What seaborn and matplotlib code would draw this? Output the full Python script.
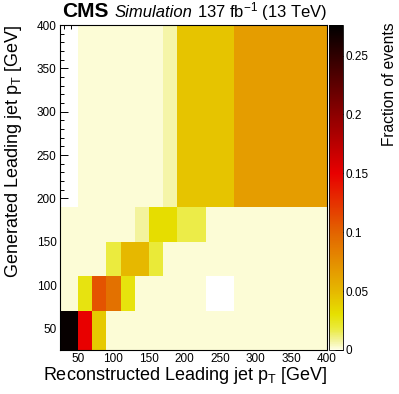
import numpy as np
import pandas as pd
import matplotlib
matplotlib.use("Agg")
import matplotlib.pyplot as plt
import seaborn as sns
from matplotlib.colors import LinearSegmentedColormap
from matplotlib.ticker import MultipleLocator, FixedLocator, FuncFormatter

# ---------------- data ----------------
x_edges = [25, 50, 70, 90, 110, 130, 150, 170, 190, 230, 270, 400]   # reco leading jet pT bins
y_edges = [25, 70, 110, 150, 190, 400]                                # gen leading jet pT bins

# fraction of events, one list per generated-pT row (bottom to top), columns follow x_edges
frac_gen_25_70   = [0.272, 0.150, 0.042, 0.002, 0.002, 0.002, 0.002, 0.002, 0.002, 0.002, 0.002]
frac_gen_70_110  = [0.002, 0.027, 0.108, 0.092, 0.028, 0.002, 0.002, 0.002, 0.002, 0.000, 0.002]
frac_gen_110_150 = [0.002, 0.002, 0.002, 0.018, 0.050, 0.050, 0.019, 0.002, 0.002, 0.002, 0.002]
frac_gen_150_190 = [0.002, 0.002, 0.002, 0.002, 0.002, 0.008, 0.032, 0.032, 0.017, 0.002, 0.002]
frac_gen_190_400 = [0.000, 0.002, 0.002, 0.002, 0.002, 0.002, 0.002, 0.007, 0.044, 0.044, 0.066]

z_max = 0.276
cbar_ticks = [0, 0.05, 0.1, 0.15, 0.2, 0.25]

rows = [frac_gen_25_70, frac_gen_70_110, frac_gen_110_150, frac_gen_150_190, frac_gen_190_400]
xc = [(a + b) / 2 for a, b in zip(x_edges[:-1], x_edges[1:])]
yc = [(a + b) / 2 for a, b in zip(y_edges[:-1], y_edges[1:])]
records = []
for j, row in enumerate(rows):
    for i, v in enumerate(row):
        records.append({"reco": xc[i], "gen": yc[j], "frac": v})
df = pd.DataFrame(records)

# ---------------- style ----------------
sns.set_style("ticks")
plt.rcParams["font.family"] = ["Liberation Sans", "DejaVu Sans"]
plt.rcParams["mathtext.fontset"] = "custom"
plt.rcParams["mathtext.rm"] = "Liberation Sans"
plt.rcParams["mathtext.it"] = "Liberation Sans:italic"
plt.rcParams["mathtext.bf"] = "Liberation Sans:bold"
for k in ("text.color", "axes.labelcolor", "xtick.color", "ytick.color", "axes.edgecolor"):
    plt.rcParams[k] = "black"

stops = [
    (0.000, (1.00, 1.00, 0.90)),
    (0.029, (0.95, 0.95, 0.60)),
    (0.065, (0.92, 0.92, 0.24)),
    (0.109, (0.90, 0.88, 0.00)),
    (0.181, (0.90, 0.72, 0.00)),
    (0.362, (0.89, 0.39, 0.00)),
    (0.543, (0.91, 0.00, 0.00)),
    (0.725, (0.55, 0.00, 0.00)),
    (0.906, (0.19, 0.00, 0.00)),
    (1.000, (0.00, 0.00, 0.00)),
]
cmap = LinearSegmentedColormap.from_list("bodyrad", stops, N=512)

W, H = 399, 394
fig = plt.figure(figsize=(W / 100, H / 100), dpi=100)
ax = fig.add_axes([60 / W, 1 - 350 / H, 267 / W, 325 / H])
cax = fig.add_axes([328.5 / W, 1 - 350 / H, 14 / W, 325 / H])

sns.histplot(data=df, x="reco", y="gen", weights="frac", bins=[x_edges, y_edges],
             cmap=cmap, vmin=0, vmax=z_max, cbar=True, cbar_ax=cax, ax=ax)

ax.set_xlim(x_edges[0], x_edges[-1])
ax.set_ylim(y_edges[0], y_edges[-1])
ax.set_xlabel("")
ax.set_ylabel("")
for a in (ax.xaxis, ax.yaxis):
    a.set_major_locator(MultipleLocator(50))
    a.set_minor_locator(MultipleLocator(10))
ax.tick_params(which="both", direction="in", top=True, right=True, labelsize=8.5, pad=2.5, width=0.7)
ax.tick_params(which="major", length=6)
ax.tick_params(which="minor", length=3)
for s in ax.spines.values():
    s.set_visible(True)
    s.set_linewidth(0.8)
    s.set_color("black")

cax.yaxis.set_major_locator(FixedLocator(cbar_ticks))
cax.yaxis.set_major_formatter(FuncFormatter(lambda v, p: f"{v:g}"))
cax.tick_params(direction="in", length=6, width=0.7, labelsize=8.5, pad=2)
cax.set_ylabel("")
for s in cax.spines.values():
    s.set_linewidth(0.6)

fig.text(327 / W, 1 - 380 / H, r"Reconstructed Leading jet $\mathrm{p_{T}}$ [GeV]",
         ha="right", va="baseline", fontsize=13)
fig.text(14 / W, 1 - 25 / H, r"Generated Leading jet $\mathrm{p_{T}}$ [GeV]",
         ha="center", va="top", rotation=90, fontsize=13)
fig.text(390 / W, 1 - 23 / H, "Fraction of events",
         ha="center", va="top", rotation=90, fontsize=11.2)

fig.text(62 / W, 1 - 17 / H, "CMS", ha="left", va="baseline", fontsize=15, fontweight="bold")
fig.text(115 / W, 1 - 17 / H, "Simulation", ha="left", va="baseline", fontsize=12, style="italic")
fig.text(327 / W, 1 - 17 / H, r"137 fb$^{\mathrm{-1}}$ (13 TeV)", ha="right", va="baseline", fontsize=12)

fig.savefig("out.png", dpi=100)
